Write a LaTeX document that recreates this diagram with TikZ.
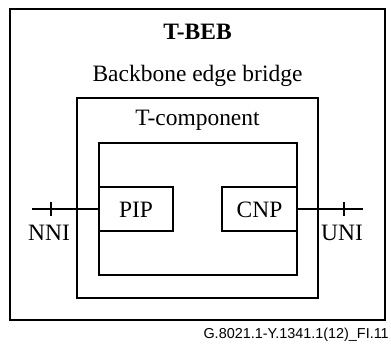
\documentclass[tikz,border=0pt]{standalone}
\usepackage{fontspec}
\setmainfont{Liberation Serif}
\newfontfamily\figfont{Liberation Sans}
\usetikzlibrary{positioning, calc}

\begin{document}
\begin{tikzpicture}[
  x=0.75pt, y=-0.75pt,
  font=\fontsize{17.6}{20}\selectfont,
  box/.style   ={draw, line width=0.8pt, inner sep=0pt, outer sep=0pt},
  lbl/.style   ={anchor=base, inner sep=0pt},
  link/.style  ={draw, line width=0.8pt},
]
\useasboundingbox (0,0) rectangle (391,345);

% =========================== BOXES ==================================
\node[box, minimum width=281.25pt, minimum height=233.25pt] (beb)   at (197.5,164.5) {};
\node[box, minimum width=180.75pt, minimum height=150pt]    (tcomp) at (197.5,198)   {};
\node[box, minimum width=148.5pt,  minimum height=99pt]     (inner) at (198,209)     {};
\node[box, minimum width=55.5pt,   minimum height=33pt, anchor=west] (pip) at (inner.west) {};
\node[box, minimum width=56.25pt,  minimum height=33pt, anchor=east] (cnp) at (inner.east) {};

% =========================== TEXTS ==================================
\node[lbl, font=\fontsize{17.6}{20}\selectfont\bfseries] (title) at (197.5,40) {T-BEB};
\node[lbl] (bebname) at (197.5,82)  {Backbone edge bridge};
\node[lbl] (tcname)  at (197.5,126) {T-component};
\node[lbl] (piplbl)  at ($(pip)+(0,8)$) {PIP};
\node[lbl] (cnplbl)  at ($(cnp)+(0,8)$) {CNP};
\node[lbl] (nnilbl)  at (49,240)  {NNI};
\node[lbl] (unilbl)  at (342,240) {UNI};

% ======================== INTERFACES ================================
\coordinate (nni)  at (32,209);
\coordinate (uni)  at (363,209);
\coordinate (nnitick) at (51,209);
\coordinate (unitick) at (344,209);
\draw[link] (nni) -- (pip.west);
\draw[link] (cnp.east) -- (uni);
\draw[link] (nnitick) ++(0,-7) -- ++(0,14);
\draw[link] (unitick) ++(0,-7) -- ++(0,14);

% =========================== FOOTER =================================
\node[anchor=base east, inner sep=0pt, font=\figfont\fontsize{10.8}{12}\selectfont]
  (fig) at (389,338) {G.8021.1-Y.1341.1(12)\_FI.11};

\end{tikzpicture}
\end{document}
